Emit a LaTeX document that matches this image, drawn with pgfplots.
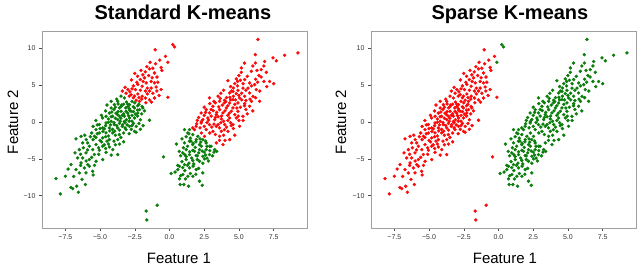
\documentclass[border=0pt]{standalone}
\usepackage{pgfplots}
\pgfplotsset{compat=1.18}
\usepackage{pgfplotstable}
\usepackage{fontspec}
\setmainfont{Liberation Sans}
\definecolor{mred}{RGB}{250,10,10}
\definecolor{mgreen}{RGB}{10,125,10}

% left cluster, upper part (red in both)
\pgfplotstableread[row sep=\\]{
x y\\
-1.03 9.8\\ -0.29 8.9\\ -0.6 7.4\\ -0.55 7.0\\ -1.63 7.5\\ -1.44 7.2\\ -1.2 7.3\\ -1.08 6.65\\
-1.92 6.4\\ -2.74 5.7\\ -2.1 5.75\\ -2.28 5.1\\ -1.97 4.85\\ -1.68 5.3\\ -1.32 5.5\\ -1.08 5.3\\
-0.84 5.4\\ -0.96 4.75\\ -1.32 4.6\\ -1.44 4.2\\ -1.73 4.2\\ -2.45 4.4\\ -3.0 4.4\\ -3.13 3.9\\
-2.76 3.7\\ -2.52 3.5\\ -2.28 3.8\\ -1.97 3.5\\ -1.73 3.25\\ -1.44 3.0\\ -1.08 3.25\\ -0.12 3.35\\
-2.16 2.8\\ -2.4 2.95\\ -0.91 4.2\\ -2.6 4.9\\ -2.3 6.2\\ -1.8 6.0\\ -1.5 6.3\\ -1.25 6.0\\
-0.9 6.1\\ -1.6 4.6\\ -2.1 4.3\\ -2.85 4.1\\ -2.6 3.3\\ -2.0 3.1\\ -1.6 3.8\\ -1.2 3.9\\
-0.75 3.6\\ -2.35 5.4\\ -1.9 5.5\\ -2.9 3.5\\ -3.2 4.7\\ -0.6 4.4\\ -1.0 7.9\\ -0.7 8.4\\
-1.4 8.1\\ -2.05 7.0\\ -1.75 6.8\\ -2.5 6.6\\ -1.3 2.7\\ -1.7 2.6\\ -2.7 4.5\\ -3.4 4.2\\
-2.2 3.3\\
}\LA

% left cluster, lower part (green in standard, red in sparse)
\pgfplotstableread[row sep=\\]{
x y\\
-3.49 3.5\\ -3.25 3.25\\ -3.73 2.8\\ -4.2 2.8\\ -3.97 2.35\\ -3.49 2.1\\ -3.0 2.1\\ -2.88 2.35\\
-2.52 1.9\\ -2.16 1.67\\ -1.92 1.9\\ -1.97 2.1\\ -2.28 1.2\\ -2.76 1.45\\ -3.13 1.45\\ -3.49 1.45\\
-3.85 1.2\\ -4.33 1.2\\ -4.57 0.77\\ -4.81 0.54\\ -4.09 0.77\\ -3.61 0.77\\ -3.25 0.77\\ -2.88 0.54\\
-2.52 0.54\\ -1.44 0.23\\ -3.73 0.32\\ -4.2 0.09\\ -4.57 -0.14\\ -5.05 -0.36\\ -3.97 -0.36\\ -3.37 -0.36\\
-2.88 -0.59\\ -4.81 -0.81\\ -4.33 -0.81\\ -3.73 -0.81\\ -3.13 -1.04\\ -2.52 -1.27\\ -2.4 -1.4\\ -5.29 -1.04\\
-5.05 -1.49\\ -4.57 -1.49\\ -4.09 -1.49\\ -3.61 -1.72\\ -5.41 -1.95\\ -4.81 -2.17\\ -4.33 -2.4\\ -3.73 -2.4\\
-6.73 -2.3\\ -6.37 -1.95\\ -6.25 -2.85\\ -5.89 -2.85\\ -5.77 -3.3\\ -5.29 -3.08\\ -4.81 -3.3\\ -4.33 -3.4\\
-5.53 -3.76\\ -5.05 -3.85\\ -4.57 -4.12\\ -4.09 -3.76\\ -6.49 -3.76\\ -6.01 -4.2\\ -5.41 -4.43\\ -3.73 -4.43\\
-6.61 -4.89\\ -6.25 -4.89\\ -5.77 -5.11\\ -5.29 -5.34\\ -4.81 -5.11\\ -7.09 -5.79\\ -6.37 -5.57\\ -5.89 -5.79\\
-6.73 -6.47\\ -6.13 -6.24\\ -5.77 -6.02\\ -6.01 -6.92\\ -5.53 -6.7\\ -6.49 -6.92\\ -8.17 -7.69\\ -7.5 -7.38\\
-6.06 -8.5\\ -6.68 -8.73\\ -6.97 -9.05\\ -6.56 -9.55\\ -7.86 -9.77\\ -1.68 -12.1\\ -1.63 -13.3\\ -0.89 -11.3\\
-0.43 -4.75\\ -3.1 2.7\\ -2.7 2.8\\ -2.3 2.2\\ -3.3 2.4\\ -3.6 1.9\\ -4.0 1.7\\ -3.9 2.0\\
-2.6 1.4\\ -2.0 1.1\\ -2.9 1.8\\ -3.3 1.1\\ -3.0 1.2\\ -2.7 0.9\\ -2.3 0.8\\ -2.1 0.3\\
-3.5 0.5\\ -3.1 0.3\\ -2.7 0.1\\ -3.9 0.5\\ -4.4 0.4\\ -4.0 -0.1\\ -3.6 -0.2\\ -3.2 -0.1\\
-2.9 0.1\\ -3.4 -0.6\\ -4.1 -1.0\\ -4.6 -0.5\\ -5.0 -0.9\\ -4.3 -1.2\\ -3.9 -1.8\\ -3.3 -1.5\\
-2.9 -1.6\\ -3.5 -2.1\\ -4.6 -2.0\\ -5.0 -2.5\\ -4.0 -2.6\\ -4.4 -3.0\\ -3.9 -3.1\\ -5.5 -2.4\\
-5.2 -1.6\\ -4.8 -1.3\\ -4.4 -1.9\\ -5.6 -1.5\\ -6.0 -2.4\\ -5.1 -4.4\\ -4.6 -3.6\\ -5.6 -4.8\\
-6.0 -5.3\\ -4.9 -2.7\\ -3.6 -3.0\\ -4.2 -4.5\\ -3.3 -2.7\\ -2.1 -1.0\\ -2.6 -0.2\\ -1.9 -0.5\\
-2.4 -0.6\\ -3.7 1.4\\ -4.6 1.5\\ -4.2 1.9\\ -5.3 0.2\\ -5.5 -0.6\\ -4.9 0.9\\ -2.2 2.4\\
-2.5 2.6\\ -3.8 3.1\\ -4.5 2.3\\ -1.8 1.5\\ -6.2 -3.5\\ -6.8 -4.2\\ -6.4 -5.9\\ -5.4 -5.9\\
-7.3 -6.4\\ -6.9 -7.4\\ -5.5 -7.2\\ -7.1 -8.9\\ -6.3 -7.8\\
-3.45 2.3\\ -3.15 1.9\\ -2.85 1.55\\ -2.45 1.05\\ -2.95 0.85\\ -3.4 0.9\\ -3.75 1.0\\ -4.15 1.35\\
-3.55 0.1\\ -3.05 -0.4\\ -2.7 -0.5\\ -3.8 -0.5\\ -4.25 -0.4\\ -4.7 -0.95\\ -3.95 -1.25\\ -3.6 -1.1\\
-3.2 -0.8\\ -2.75 -1.0\\ -4.5 -2.6\\ -5.3 -2.1\\ -5.7 -2.0\\ -5.1 -3.5\\ -5.9 -3.8\\ -6.4 -4.4\\
-4.2 0.7\\ -2.3 1.6\\ -3.0 2.4\\ -2.6 2.05\\ -3.7 2.45\\ -4.7 -3.1\\ -5.2 -0.4\\ -6.1 -1.8\\
-3.25 0.05\\ -2.2 -0.2\\ -4.4 -0.05\\
}\LB

% left cluster top points (red in standard, green in sparse)
\pgfplotstableread[row sep=\\]{
x y\\
0.24 10.5\\ 0.36 10.2\\ -0.12 8.1\\
}\LC

% right cluster, upper part (red in standard, green in sparse)
\pgfplotstableread[row sep=\\]{
x y\\
6.37 11.2\\ 6.18 9.14\\ 6.18 8.0\\ 6.85 8.2\\ 7.45 8.7\\ 7.69 8.3\\ 8.29 9.05\\ 9.25 9.37\\
5.17 7.33\\ 5.17 6.74\\ 5.89 6.88\\ 6.3 7.0\\ 6.61 7.1\\ 6.44 6.3\\ 6.97 6.74\\ 7.21 5.5\\
7.5 5.2\\ 4.81 5.84\\ 5.1 5.66\\ 5.41 5.75\\ 5.77 5.3\\ 6.13 5.07\\ 5.65 4.6\\ 5.29 4.6\\
4.93 4.3\\ 4.57 4.16\\ 4.33 3.94\\ 4.81 3.85\\ 5.77 3.94\\ 6.25 4.39\\ 6.01 3.48\\ 5.41 3.48\\
5.05 3.26\\ 4.57 3.03\\ 3.97 2.94\\ 6.49 2.8\\ 2.88 3.26\\ 3.61 2.8\\ 4.33 2.58\\ 4.93 2.58\\
5.41 2.49\\ 5.77 2.13\\ 4.57 1.9\\ 4.09 1.9\\ 3.61 1.67\\ 3.13 2.13\\ 2.64 1.67\\ 2.28 1.22\\
2.88 1.22\\ 3.37 1.0\\ 3.85 1.22\\ 4.45 1.45\\ 4.93 1.45\\ 5.29 0.77\\ 4.81 0.54\\ 4.33 0.54\\
3.73 0.41\\ 3.25 0.32\\ 2.76 0.54\\ 2.4 0.32\\ 5.05 -0.59\\ 4.57 -0.36\\ 3.97 -0.36\\ 3.37 -0.59\\
2.88 -0.36\\ 2.28 -0.14\\ 1.92 -0.59\\ 1.8 -1.04\\ 1.68 -0.81\\ 2.64 -1.04\\ 3.13 -1.27\\ 3.73 -1.27\\
4.21 -1.27\\ 3.61 -1.95\\ 2.52 -1.95\\ 4.33 -2.4\\ 3.37 -2.85\\ 3.85 -3.08\\ 3.3 2.6\\ 3.8 2.3\\
4.2 2.2\\ 4.7 2.4\\ 5.1 2.0\\ 5.5 1.7\\ 5.2 3.0\\ 4.6 3.5\\ 4.1 3.3\\ 3.5 3.5\\
3.9 4.3\\ 4.4 4.8\\ 4.7 5.2\\ 5.3 5.2\\ 5.6 6.2\\ 5.0 6.3\\ 4.6 4.6\\ 5.9 4.9\\
6.2 5.8\\ 6.6 6.1\\ 6.0 7.6\\ 5.4 8.0\\ 6.8 7.6\\ 3.0 1.7\\ 3.4 1.3\\ 4.0 1.5\\
4.2 0.9\\ 4.7 1.0\\ 5.0 0.2\\ 4.4 -0.1\\ 3.9 0.1\\ 3.5 0.7\\ 3.0 0.8\\ 2.5 0.9\\
2.1 0.6\\ 2.7 -0.1\\ 3.2 -0.3\\ 3.6 -0.8\\ 4.1 -0.7\\ 4.6 -0.9\\ 3.3 -1.7\\ 2.2 -0.8\\
2.0 0.2\\ 2.5 -0.6\\ 2.9 -1.5\\ 3.9 -1.8\\ 4.7 -1.8\\ 4.0 -2.5\\ 3.6 -2.5\\ 2.3 -1.5\\
5.6 1.1\\ 5.9 2.8\\ 6.2 3.3\\ 6.5 4.2\\ 7.0 4.8\\ 5.3 0.2\\ 4.4 3.0\\ 3.7 3.9\\
4.9 4.9\\ 4.2 5.6\\ 6.0 1.5\\ 5.5 2.9\\ 5.8 3.1\\ 6.8 5.5\\ 3.2 2.8\\ 2.5 2.0\\
2.9 2.5\\ 3.7 -0.1\\ 4.2 0.2\\
3.15 1.55\\ 3.55 2.05\\ 3.95 2.6\\ 4.35 3.35\\ 4.75 3.0\\ 5.2 3.9\\ 4.85 1.9\\ 4.3 1.2\\
3.75 0.8\\ 3.3 0.6\\ 2.8 0.25\\ 2.6 1.3\\ 3.05 -0.7\\ 3.5 -0.35\\ 3.95 -1.05\\ 4.45 -0.5\\
4.95 0.8\\ 5.4 2.2\\ 5.0 3.6\\ 4.05 2.75\\ 3.65 3.2\\ 4.45 4.2\\ 4.9 5.5\\ 5.5 4.3\\
6.35 5.4\\ 2.3 0.05\\ 1.95 -0.25\\
}\RA

% right cluster, lower part (green in both)
\pgfplotstableread[row sep=\\]{
x y\\
1.44 -1.04\\ 1.08 -1.04\\ 1.32 -1.49\\ 1.68 -1.72\\ 2.04 -1.95\\ 2.4 -2.4\\ 1.92 -2.4\\ 1.44 -2.62\\
1.08 -2.85\\ 1.68 -3.08\\ 2.16 -3.08\\ 2.64 -2.85\\ 3.0 -3.3\\ 3.25 -3.76\\ 2.64 -3.76\\ 2.16 -3.76\\
1.68 -3.85\\ 1.2 -3.76\\ 0.96 -4.2\\ 1.44 -4.43\\ 1.92 -4.57\\ 2.4 -4.66\\ 2.88 -4.43\\ 1.2 -5.11\\
1.68 -5.25\\ 2.16 -5.34\\ 2.52 -5.02\\ 0.72 -6.02\\ 1.08 -5.79\\ 1.44 -6.24\\ 1.92 -6.47\\ 2.4 -6.92\\
0.6 -6.47\\ 0.96 -7.15\\ 1.32 -7.38\\ 1.68 -7.38\\ 0.12 -7.0\\ 0.72 -7.74\\ 1.15 -7.74\\ 0.77 -8.5\\
1.03 -8.5\\ 1.37 -8.73\\ 2.36 -8.6\\ 2.16 -8.05\\ 1.2 -2.0\\ 1.5 -2.2\\ 1.9 -2.7\\ 2.3 -3.3\\
2.7 -3.3\\ 2.9 -3.9\\ 2.5 -4.1\\ 2.1 -4.2\\ 1.8 -4.0\\ 1.3 -3.3\\ 1.0 -3.5\\ 0.8 -4.6\\
1.2 -4.7\\ 1.6 -4.9\\ 2.0 -5.1\\ 2.4 -5.6\\ 2.8 -5.3\\ 1.4 -5.6\\ 0.9 -5.4\\ 0.6 -5.9\\
1.1 -6.6\\ 1.7 -6.0\\ 2.1 -6.3\\ 0.4 -6.8\\ 0.8 -7.3\\ 1.5 -7.0\\ 1.9 -7.1\\ 3.1 -4.6\\
3.4 -4.0\\ 2.6 -2.6\\ 1.7 -2.9\\ 1.4 -1.6\\ 0.9 -2.3\\ 0.5 -3.0\\ 2.2 -2.3\\ 0.7 -4.0\\
2.7 -4.9\\ 1.55 -2.6\\ 1.85 -3.45\\ 2.35 -3.95\\ 2.0 -4.6\\ 1.45 -4.05\\ 1.1 -4.45\\ 2.6 -4.5\\
2.25 -2.75\\ 1.3 -5.9\\ 1.75 -5.7\\ 0.95 -6.2\\ 2.9 -3.3\\ 3.2 -4.1\\
}\RB

\pgfplotsset{
  kmstyle/.style={
    scale only axis, width=265pt, height=197pt,
    xmin=-9.18, xmax=9.9, ymin=-14.4, ymax=12.35,
    xtick={-7.5,-5,-2.5,0,2.5,5,7.5},
    xticklabels={−7.5,−5.0,−2.5,0.0,2.5,5.0,7.5},
    ytick={-10,-5,0,5,10},
    yticklabels={−10,−5,0,5,10},
    tick pos=left, tick align=outside, major tick length=3pt,
    axis line style={gray!75, line width=0.8pt},
    tick style={gray!60!black, line width=0.5pt},
    ticklabel style={font=\fontsize{7}{8}\selectfont, text=gray!40!black},
  },
  kmred/.style={only marks, mark=*, mark size=1.5pt, color=mred, mark options={fill=mred, draw=mred}},
  kmgreen/.style={only marks, mark=*, mark size=1.5pt, color=mgreen, mark options={fill=mgreen, draw=mgreen}},
}

\begin{document}
\begin{tikzpicture}
\useasboundingbox (0,0) rectangle (640pt,270pt);
\begin{axis}[kmstyle, at={(42pt,42pt)}, anchor=south west]
\addplot[kmred] table[x=x, y=y] {\LA};
\addplot[kmred] table[x=x, y=y] {\LC};
\addplot[kmred] table[x=x, y=y] {\RA};
\addplot[kmgreen] table[x=x, y=y] {\LB};
\addplot[kmgreen] table[x=x, y=y] {\RB};
\end{axis}
\begin{axis}[kmstyle, at={(371pt,42pt)}, anchor=south west]
\addplot[kmred] table[x=x, y=y] {\LA};
\addplot[kmred] table[x=x, y=y] {\LB};
\addplot[kmgreen] table[x=x, y=y] {\LC};
\addplot[kmgreen] table[x=x, y=y] {\RA};
\addplot[kmgreen] table[x=x, y=y] {\RB};
\end{axis}
\node[anchor=base, font=\bfseries\fontsize{20}{24}\selectfont] at (183pt,250pt) {Standard K-means};
\node[anchor=base, font=\bfseries\fontsize{20}{24}\selectfont] at (510pt,250pt) {Sparse K-means};
\node[anchor=base, font=\fontsize{15}{18}\selectfont] at (179pt,6pt) {Feature 1};
\node[anchor=base, font=\fontsize{15}{18}\selectfont] at (505pt,6pt) {Feature 1};
\node[anchor=base, rotate=90, font=\fontsize{15}{18}\selectfont] at (18pt,148pt) {Feature 2};
\node[anchor=base, rotate=90, font=\fontsize{15}{18}\selectfont] at (346pt,148pt) {Feature 2};
\end{tikzpicture}
\end{document}
